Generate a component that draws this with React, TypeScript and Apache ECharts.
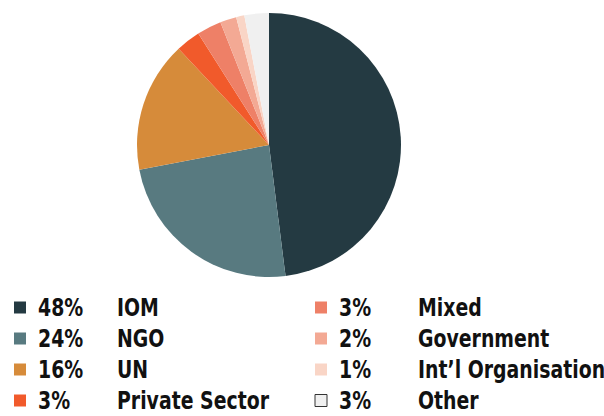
import React, { useEffect, useRef } from "react";
import * as echarts from "echarts";

const categories = ["IOM", "NGO", "UN", "Private Sector", "Mixed", "Government", "Int\u2019l Organisation", "Other"];
const values = [48, 24, 16, 3, 3, 2, 1, 3];
const colors = ["#243a42", "#587a80", "#d68b3a", "#f15a2b", "#ee8067", "#f3a994", "#f9d5c6", "#f0f0f0"];

const FONT = "'DejaVu Sans Condensed', 'DejaVu Sans', sans-serif";

export default function App() {
  const ref = useRef<HTMLDivElement>(null);
  useEffect(() => {
    if (!ref.current) return;
    const chart = echarts.init(ref.current, null, { renderer: "svg" });

    const legendEls: any[] = [];
    categories.forEach((c, i) => {
      const col = i < 4 ? 0 : 1;
      const row = i % 4;
      const x0 = col === 0 ? 14 : 315;
      const yc = 307 + row * 31;
      legendEls.push({
        type: "rect",
        shape: { x: x0, y: yc - 5.5, width: 12, height: 12 },
        style: {
          fill: colors[i],
          stroke: i === 7 ? "#333333" : null,
          lineWidth: i === 7 ? 1 : 0,
        },
      });
      const textStyle = {
        fontFamily: FONT,
        fontWeight: "bold",
        fontSize: 25,
        fill: "#111111",
        verticalAlign: "middle",
        align: "left",
      };
      legendEls.push({
        type: "text",
        x: x0 + 24,
        y: yc,
        scaleX: 0.84,
        style: { ...textStyle, text: `${values[i]}%` },
      });
      legendEls.push({
        type: "text",
        x: x0 + 103,
        y: yc,
        scaleX: 0.84,
        style: { ...textStyle, text: c },
      });
    });

    chart.setOption({
      animation: false,
      color: colors,
      graphic: legendEls,
      series: [
        {
          type: "pie",
          center: [269, 145],
          radius: 132,
          startAngle: 90,
          clockwise: true,
          label: { show: false },
          labelLine: { show: false },
          emphasis: { disabled: true },
          itemStyle: { borderWidth: 0 },
          data: categories.map((c, i) => ({ name: c, value: values[i] })),
        },
      ],
    });
    return () => chart.dispose();
  }, []);
  return <div ref={ref} style={{ width: 604, height: 416, position: "absolute", left: 0, top: 0 }} />;
}
